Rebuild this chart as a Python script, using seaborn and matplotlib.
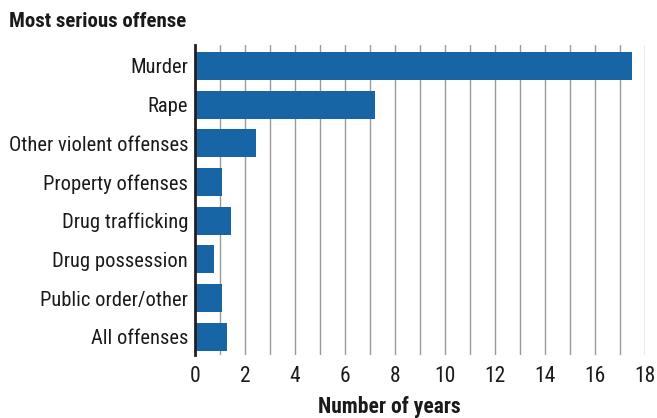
import matplotlib
matplotlib.use("Agg")
import matplotlib.pyplot as plt
import seaborn as sns
import pandas as pd

# values
offenses = ["Murder", "Rape", "Other violent offenses", "Property offenses",
            "Drug trafficking", "Drug possession", "Public order/other", "All offenses"]
years = [17.5, 7.2, 2.43, 1.1, 1.43, 0.75, 1.1, 1.3]
x_ticks = [0, 2, 4, 6, 8, 10, 12, 14, 16, 18]

sns.set_style("white")
plt.rcParams['font.family'] = ['Roboto Condensed', 'Lato', 'DejaVu Sans']

df = pd.DataFrame({"offense": offenses, "years": years})

fig = plt.figure(figsize=(6.57, 4.18), dpi=100)
ax = fig.add_axes([0.2968, 0.1507, 0.6849, 0.7416])

sns.barplot(data=df, x="years", y="offense", orient="h", color="#1765a5",
            saturation=1, width=0.72, linewidth=0, ax=ax, zorder=3)

ax.set_xlim(0, 18)
ax.set_ylim(7.47, -0.54)
ax.set_xticks(x_ticks)
ax.set_xticks(range(0, 19), minor=True)
ax.grid(axis="x", which="both", color="#9a9a9a", linewidth=1.0, zorder=0)
ax.tick_params(axis="both", which="both", length=0, labelsize=14.8, colors="#1a1a1a")
ax.tick_params(axis="y", pad=5)
ax.tick_params(axis="x", labelsize=15.5, pad=8)

for s in ["top", "right", "bottom"]:
    ax.spines[s].set_visible(False)
ax.spines["left"].set_color("#231f20")
ax.spines["left"].set_linewidth(2)
ax.spines["left"].set_zorder(4)

ax.set_ylabel("")
ax.set_xlabel("")
fig.text(0.592, 0.026, "Number of years", fontsize=15.5, fontweight="bold",
         color="#1a1a1a", ha="center", va="center")
fig.text(0.014, 0.948, "Most serious offense", fontsize=15, fontweight="bold",
         color="#1a1a1a", ha="left", va="center")

fig.savefig("out.png", dpi=100)
